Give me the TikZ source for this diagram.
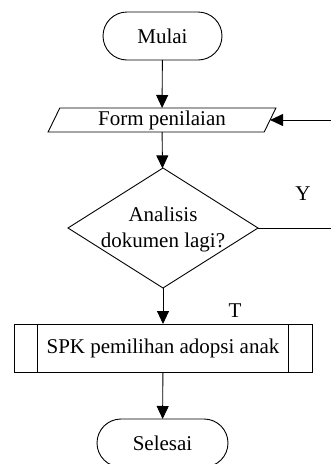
\documentclass[tikz,border=0pt]{standalone}
\usepackage{fontspec}
\setmainfont{Liberation Serif}
\usetikzlibrary{arrows.meta,shapes.geometric}
\begin{document}
\begin{tikzpicture}[x=1pt,y=-1pt,
  font=\fontsize{21}{26}\selectfont,
  line width=0.9pt,
  every node/.style={inner sep=0pt, outer sep=0pt},
  terminal/.style={draw, rectangle, rounded corners=24pt, minimum height=48pt},
  iobox/.style={draw, trapezium, trapezium left angle=69, trapezium right angle=111,
    trapezium stretches=true, minimum width=228pt, minimum height=24pt},
  decision/.style={draw, diamond, minimum width=190pt, minimum height=120pt},
  subproc/.style={draw, rectangle, minimum width=298pt, minimum height=48pt,
    path picture={
      \draw ([xshift=23pt]path picture bounding box.north west) -- ([xshift=23pt]path picture bounding box.south west);
      \draw ([xshift=-24pt]path picture bounding box.north east) -- ([xshift=-24pt]path picture bounding box.south east);
    }},
  flow/.style={-{Triangle[length=13pt,width=12pt]}},
  tag/.style={font=\fontsize{21}{26}\selectfont}
]
\useasboundingbox (0,0) rectangle (331,464);

\node[terminal, minimum width=119pt] (start) at (162.5,36) {Mulai};
\node[iobox] (form) at (162,120) {Form penilaian};
\node[decision] (dec) at (163,228) {};
\node[align=center] (dectext) at (163,229) {Analisis\\dokumen lagi?};
\node[subproc] (spk) at (163,348) {SPK pemilihan adopsi anak};
\node[terminal, minimum width=131pt] (stop) at (162.5,443) {Selesai};

\coordinate (loop) at (345,228);

\draw[flow] (start) -- (form);
\draw[flow] (form) -- (dec);
\draw[flow] (dec) -- (spk);
\draw[flow] (spk) -- (stop);
\draw[flow] (dec.east) -- (loop) |- (form.east);

\node[tag] (ylab) at (303,194) {Y};
\node[tag] (tlab) at (235,311) {T};
\end{tikzpicture}
\end{document}
